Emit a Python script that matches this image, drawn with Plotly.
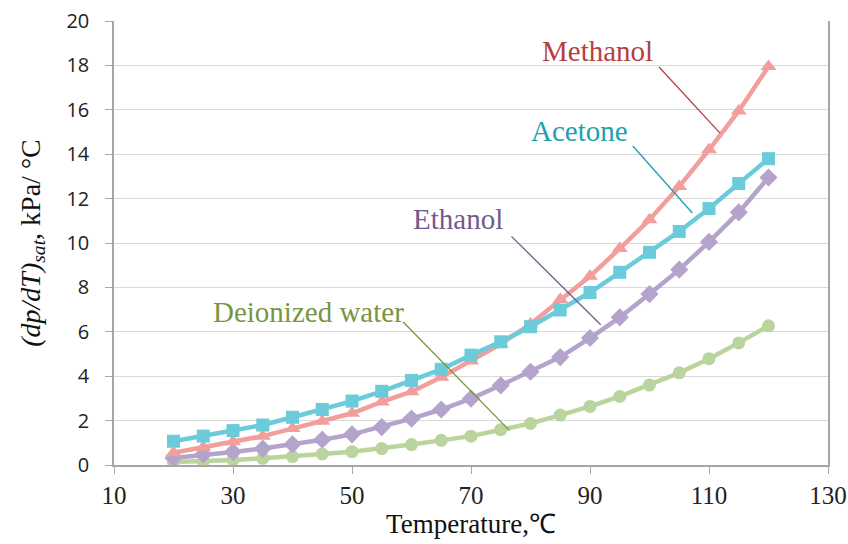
import plotly.graph_objects as go

# Saturation-pressure slope (dp/dT)sat in kPa/°C vs temperature
temperature = [20, 25, 30, 35, 40, 45, 50, 55, 60, 65, 70,
               75, 80, 85, 90, 95, 100, 105, 110, 115, 120]
methanol = [0.55, 0.80, 1.05, 1.30, 1.64, 1.97, 2.33, 2.84, 3.30, 3.95, 4.68,
            5.45, 6.35, 7.45, 8.50, 9.75, 11.05, 12.55, 14.20, 15.95, 17.95]
acetone = [1.07, 1.30, 1.55, 1.80, 2.15, 2.50, 2.88, 3.32, 3.81, 4.31, 4.95,
           5.55, 6.23, 6.98, 7.77, 8.68, 9.58, 10.52, 11.55, 12.68, 13.80]
ethanol = [0.32, 0.48, 0.59, 0.74, 0.93, 1.14, 1.38, 1.71, 2.09, 2.50, 2.99,
           3.59, 4.20, 4.86, 5.72, 6.65, 7.70, 8.80, 10.05, 11.38, 12.95]
water = [0.13, 0.17, 0.23, 0.30, 0.38, 0.50, 0.60, 0.74, 0.92, 1.11, 1.30,
         1.59, 1.87, 2.25, 2.64, 3.09, 3.60, 4.15, 4.79, 5.50, 6.27]

x_ticks = [10, 30, 50, 70, 90, 110, 130]
y_ticks = [0, 2, 4, 6, 8, 10, 12, 14, 16, 18, 20]

SERIF = "Liberation Serif, Times New Roman, serif"

series = [
    ("Deionized water", water, "#B9D49C", "circle", 13),
    ("Ethanol", ethanol, "#B4A3CB", "diamond", 14),
    ("Methanol", methanol, "#F19E9C", "triangle-up", 14),
    ("Acetone", acetone, "#6BCBDA", "square", 13),
]

fig = go.Figure()
for name, vals, color, sym, msize in series:
    fig.add_trace(go.Scatter(
        x=temperature, y=vals, mode="lines+markers", name=name,
        line=dict(color=color, width=4.5),
        marker=dict(symbol=sym, size=msize, color=color),
        showlegend=False,
    ))

# Series labels with leader lines: (text, text x, text y, line start, line end, colour)
labels = [
    ("Methanol", 91.2, 18.65, (101.6, 17.93), (111.85, 14.95), "#B5413E"),
    ("Acetone", 88.3, 15.05, (97.2, 14.37), (107.2, 11.35), "#1F9FAE"),
    ("Ethanol", 67.8, 11.1, (76.8, 10.30), (91.8, 6.32), "#6F5B8E"),
    ("Deionized water", 42.7, 6.9, (58.6, 6.44), (76.45, 1.56), "#77963F"),
]
for text, tx, ty, (x0, y0), (x1, y1), color in labels:
    fig.add_annotation(x=tx, y=ty, text=text, showarrow=False,
                       font=dict(family=SERIF, size=29, color=color),
                       xanchor="center", yanchor="middle")
    fig.add_shape(type="line", x0=x0, y0=y0, x1=x1, y1=y1,
                  xref="x", yref="y", line=dict(color=color, width=1.3))

fig.update_layout(
    width=848, height=544,
    margin=dict(l=114, r=20, t=21, b=79),
    paper_bgcolor="white", plot_bgcolor="white",
    xaxis=dict(
        range=[10, 130], tickvals=x_ticks, ticks="outside", ticklen=7,
        tickcolor="#A6A6A6", showline=True, linecolor="#A6A6A6", linewidth=1.5,
        showgrid=False, zeroline=False, automargin=False,
        tickfont=dict(family=SERIF, size=25, color="#222"),
        title=dict(text="Temperature,℃", font=dict(family=SERIF, size=27, color="#111"),
                   standoff=2),
    ),
    yaxis=dict(
        range=[0, 20], tickvals=y_ticks, ticks="outside", ticklen=7,
        tickcolor="#A6A6A6", showline=True, linecolor="#A6A6A6", linewidth=1.5,
        mirror=True, showgrid=True, gridcolor="#D9D9D9", gridwidth=1.3,
        zeroline=False, automargin=False, ticklabelstandoff=12,
        tickfont=dict(family="Open Sans, Liberation Sans, sans-serif", size=20, color="#222"),
        title=dict(text="<i>(dp/dT)</i><sub><i>sat</i></sub>, kPa/ °C",
                   font=dict(family=SERIF, size=28, color="#111"), standoff=18),
    ),
)

fig.write_html("out.html")
